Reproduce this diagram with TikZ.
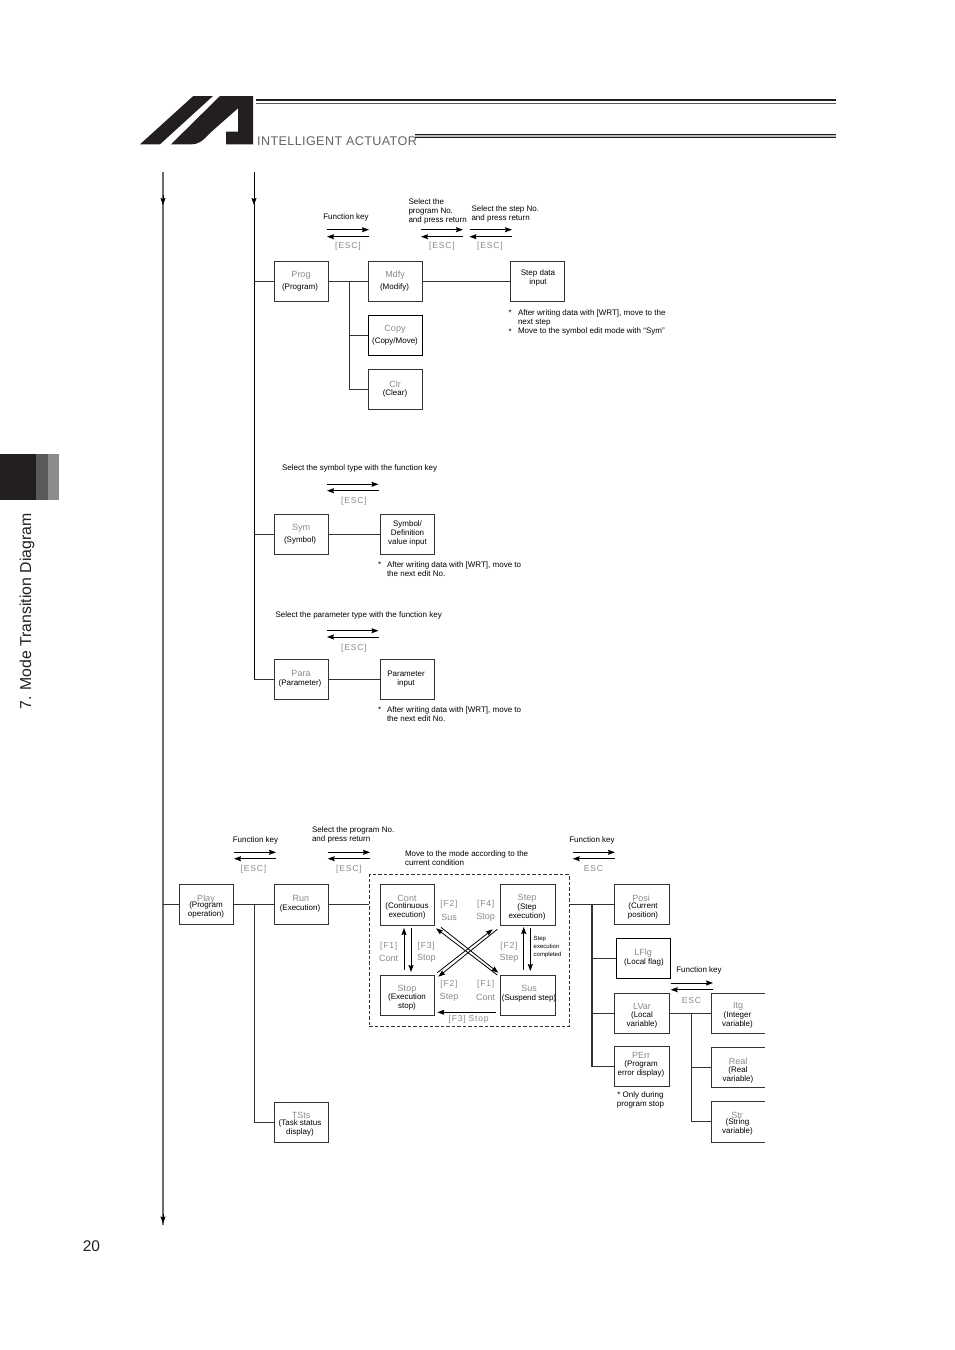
\documentclass[tikz,border=0pt]{standalone}
\usepackage{fontspec}
\setmainfont{Liberation Sans}
\newfontfamily\spacedfont[LetterSpace=9]{Liberation Sans}
\newfontfamily\brandfont[LetterSpace=3]{Liberation Sans}
\usetikzlibrary{arrows.meta}
\definecolor{ink}{HTML}{231F20}
\definecolor{tabmid}{HTML}{5A5A5A}
\definecolor{tablight}{HTML}{8C8C8C}
\definecolor{lgrey}{HTML}{8A8A8A}
\definecolor{bline}{HTML}{333333}
\tikzset{
 mbox/.style={draw=bline,line width=0.85pt,fill=none,inner sep=0pt,outer sep=0pt},
 dbox/.style={draw=black,line width=1.1pt,fill=none,inner sep=0pt,outer sep=0pt},
 wire/.style={draw=bline,line width=0.85pt},
 trunk/.style={draw=bline,line width=1.2pt},
 ar/.style={draw=black,line width=0.8pt,-{Stealth[length=7pt,width=5pt,inset=1pt]}},
 txt/.style={inner sep=0pt,outer sep=0pt,yshift=-0.8pt,font=\fontsize{8}{9}\selectfont,text=black,align=center},
 ltxt/.style={txt,anchor=west,align=left},
 ttl/.style={inner sep=0pt,outer sep=0pt,yshift=-0.8pt,font=\fontsize{9}{10}\selectfont,text=lgrey},
 keyt/.style={inner sep=0pt,outer sep=0pt,yshift=-0.8pt,font=\fontsize{8.6}{10}\spacedfont,text=lgrey},
}
\newcommand{\bxx}[6][mbox]{\node[#1,minimum width=#4-#3,minimum height=#6-#5] (#2) at ({(#3+#4)/2},{(#5+#6)/2}) {};}
\newcommand{\tl}[4]{\node[ttl] (#1) at (#2,#3) {#4};}
\newcommand{\st}[4]{\node[txt] (#1) at (#2,#3) {#4};}
\newcommand{\lt}[4]{\node[ltxt] (#1) at (#2,#3) {#4};}
\newcommand{\kt}[4]{\node[keyt] (#1) at (#2,#3) {#4};}
\newcommand{\pair}[5]{%
 \coordinate (#1ra) at (#2,#4); \coordinate (#1rb) at (#3,#4);
 \coordinate (#1la) at (#3,#5); \coordinate (#1lb) at (#2,#5);
 \draw[ar] (#1ra) -- (#1rb); \draw[ar] (#1la) -- (#1lb);}
\begin{document}
\begin{tikzpicture}[x=1pt,y=-1pt]
\useasboundingbox (0,0) rectangle (954,1350);
% side tab
\fill[ink] (0,454) rectangle (36,500);
\fill[tabmid] (36,454) rectangle (48,500);
\fill[tablight] (48,454) rectangle (59,500);
\node[inner sep=0pt,rotate=90,font=\fontsize{15.8}{18}\selectfont,text=ink] (chap) at (27,611.5) {7. Mode Transition Diagram};
\node[inner sep=0pt,font=\fontsize{15.5}{18}\selectfont,text=ink] (pageno) at (91.5,1246) {20};
% logo
\fill[ink] (140,144.3) -- (193.3,96) -- (213,96) -- (160,144.3) -- cycle;
\fill[ink] (171,144.3) -- (220,96) -- (253,96) -- (253,144.3) -- (226,144.3) -- (226,131.7) -- (238,131.7) -- (238,108.3) -- (210,133) .. controls (203,141) and (198,144.3) .. (192,144.3) -- cycle;
% head rules
\fill[ink] (256,98.6) rectangle (836,100.9);
\fill[ink!75] (256,102.7) rectangle (836,103.8);
\fill[ink] (415,133.6) rectangle (836,135);
\fill[ink!30] (415,135) rectangle (836,136.6);
\fill[ink] (415,136.6) rectangle (836,138);
\node[inner sep=0pt,anchor=base west,font=\fontsize{12.6}{14}\brandfont,text=ink!70] (brand) at (257,145.5) {INTELLIGENT ACTUATOR};
% trunks
\coordinate (tA0) at (163,172); \coordinate (tA1a) at (163,195); \coordinate (tA1) at (163,205);
\coordinate (tAe) at (163,1224.5); \coordinate (tAea) at (163,1214); \coordinate (tAeb) at (163,1223.5);
\coordinate (tB0) at (254,172); \coordinate (tB1a) at (254,195); \coordinate (tB1) at (254,205);
\draw[draw=black!58,line width=2pt] (tA0) -- (tAe);
\draw[ar] (tA1a) -- (tA1);
\draw[ar] (tAea) -- (tAeb);
% boxes
\bxx{prog}{274.3}{328.3}{261.5}{301.5}
\bxx{mdfy}{368.3}{422.5}{261.5}{301.5}
\bxx{sdata}{510.3}{564.3}{261.5}{301.5}
\bxx[dbox]{copy}{368.3}{422.5}{315.5}{355.5}
\bxx{clr}{368.3}{422.5}{369.5}{409.5}
\bxx{sym}{274.3}{328.3}{514.5}{554.5}
\bxx{symv}{380}{434}{514.5}{554.5}
\bxx{para}{274.3}{328.3}{659.5}{699.5}
\bxx{parv}{380}{434}{659.5}{699.5}
\bxx{play}{179.3}{233.3}{884.5}{924.5}
\bxx{run}{274.3}{328.3}{884.5}{924.5}
\bxx{tsts}{274.3}{328.3}{1102}{1142}
\bxx{cont}{380}{434}{884.7}{925}
\bxx{step}{500.3}{555}{884.7}{925}
\bxx{stop}{380}{434}{975}{1015.5}
\bxx{sus}{500.3}{555}{975}{1015.5}
\bxx{posi}{614.3}{669}{884.2}{924.2}
\bxx[dbox]{lflg}{616.3}{670.7}{938.2}{978.2}
\bxx{lvar}{614.3}{669}{993}{1033}
\bxx{perr}{614.3}{669}{1046.7}{1086.7}
% open-right boxes
\foreach \n/\a/\b in {itg/993/1033,real/1047/1087,strv/1101/1142}{
 \coordinate (\n c) at (711.7,{(\a+\b)/2});
 \draw[wire] (765,\a) -- (711.7,\a) -- (711.7,\b) -- (765,\b);
}
% dashed frame
\node[draw=bline,line width=0.8pt,dash pattern=on 3.5pt off 2pt,inner sep=0pt,minimum width=200,minimum height=151.4] (frame) at (469.3,950.4) {};
% connectors
\coordinate (jB) at (254,281.5);
\coordinate (jC) at (254,534.5);
\coordinate (jD) at (254,679.5);
\coordinate (jE) at (254,904.5);
\coordinate (jF) at (254,1122);
\draw[wire,draw=black] (tB0) -- (jD);
\draw[ar] (tB1a) -- (tB1);
\draw[wire] (jB) -- (prog.west);
\draw[wire] (jC) -- (sym.west);
\draw[wire] (jD) -- (para.west);
\draw[wire] (prog.east) -- (mdfy.west);
\draw[wire] (mdfy.east) -- (sdata.west);
\coordinate (j1) at (349,281.5);
\coordinate (j2) at (349,335.5);
\coordinate (j3) at (349,389.5);
\draw[wire] (j1) -- (j3) -- (clr.west);
\draw[wire] (j2) -- (copy.west);
\draw[wire] (sym.east) -- (symv.west);
\draw[wire] (para.east) -- (parv.west);
\coordinate (aPlay) at (163,904.5);
\draw[wire] (aPlay) -- (play.west);
\draw[wire] (play.east) -- (run.west);
\draw[wire] (jE) -- (jF) -- (tsts.west);
\draw[wire] (run.east) -- (frame.west |- run.east);
\coordinate (fE) at (569.3,904.2);
\draw[wire] (fE) -- (posi.west);
\coordinate (j4) at (592,904.2);
\coordinate (j5) at (592,958.2);
\coordinate (j6) at (592,1013);
\coordinate (j7) at (592,1066.7);
\draw[trunk] (j4) -- (j7) -- (perr.west);
\draw[trunk] (j5) -- (lflg.west);
\draw[wire] (j6) -- (lvar.west);
\draw[wire] (lvar.east) -- (itgc);
\coordinate (j8) at (691,1013);
\coordinate (j9) at (691,1067);
\coordinate (j10) at (691,1121.5);
\draw[wire] (j8) -- (j10) -- (strvc);
\draw[wire] (j9) -- (realc);
% key arrows
\pair{a}{327}{369}{229.7}{236.7}
\pair{b}{421}{463}{229.7}{236.7}
\pair{c}{469.5}{512}{229.7}{236.7}
\pair{d}{327}{378.5}{484.3}{490.7}
\pair{e}{327}{378.5}{630.7}{637}
\pair{f}{234}{276}{852.3}{858.7}
\pair{g}{327.7}{370}{852.3}{858.7}
\pair{h}{572.7}{615}{852.3}{858.7}
\pair{i}{670.7}{713}{983}{989.7}
\kt{ka}{348}{245.5}{[ESC]}
\kt{kb}{442}{245.5}{[ESC]}
\kt{kc}{490}{245.5}{[ESC]}
\kt{kd}{354}{500}{[ESC]}
\kt{ke}{354}{647}{[ESC]}
\kt{kf}{253.5}{868}{[ESC]}
\kt{kg}{349}{868}{[ESC]}
\kt{kh}{593.5}{868}{ESC}
\kt{ki}{691.5}{1000}{ESC}
% inner arrows
\coordinate (u1a) at (404,970); \coordinate (u1b) at (404,928);
\coordinate (d1a) at (411,928); \coordinate (d1b) at (411,972);
\coordinate (u2a) at (523.7,970); \coordinate (u2b) at (523.7,927);
\coordinate (d2a) at (530.3,928); \coordinate (d2b) at (530.3,971);
\coordinate (x1a) at (437.3,972.7); \coordinate (x1b) at (492.7,929.3);
\coordinate (x2a) at (497.3,929.3); \coordinate (x2b) at (438.3,976.7);
\coordinate (x3a) at (497.3,975); \coordinate (x3b) at (436,928.3);
\coordinate (x4a) at (441,927.3); \coordinate (x4b) at (498.3,972.7);
\coordinate (b1a) at (495.7,1012.3); \coordinate (b1b) at (437.3,1012.3);
\foreach \p in {u1,d1,u2,d2,x1,x2,x3,x4,b1}{\draw[ar] (\p a) -- (\p b);}
% key labels in frame
\kt{f1}{449}{903.5}{[F2]} \tl{f1b}{449}{916.2}{Sus}
\kt{f2}{485.7}{903.5}{[F4]} \tl{f2b}{485.7}{916.2}{Stop}
\kt{f3}{388.7}{945.5}{[F1]} \tl{f3b}{388.7}{957.5}{Cont}
\kt{f4}{426.3}{945.5}{[F3]} \tl{f4b}{426.3}{957.5}{Stop}
\kt{f5}{509}{945.5}{[F2]} \tl{f5b}{509}{957.5}{Step}
\kt{f6}{449}{983}{[F2]} \tl{f6b}{449}{996.2}{Step}
\kt{f7}{485.7}{983}{[F1]} \tl{f7b}{485.7}{996.2}{Cont}
\kt{f8}{468.7}{1018.5}{[F3]\,\,Stop}
\node[ltxt,font=\fontsize{6}{8}\selectfont] (compl) at (533.7,946.7) {Step\\[0pt]execution\\[0pt]completed};
% box labels
\tl{t1}{301}{274.5}{Prog} \st{s1}{300}{287}{(Program)}
\tl{t2}{395}{274.5}{Mdfy} \st{s2}{394.5}{287}{(Modify)}
\st{s3}{538}{277.5}{Step data\\input}
\tl{t4}{395}{328.5}{Copy} \st{s4}{395}{341}{(Copy/Move)}
\tl{t5}{395}{383}{Clr} \st{s5}{395}{393}{(Clear)}
\tl{t6}{301}{527.5}{Sym} \st{s6}{300}{540}{(Symbol)}
\st{s7}{407.5}{533}{Symbol/\\Definition\\value input}
\tl{t8}{301}{673}{Para} \st{s8}{300}{683}{(Parameter)}
\st{s9}{406}{678.5}{Parameter\\input}
\tl{t10}{206}{898}{Play} \st{s10}{206}{909}{(Program\\operation)}
\tl{t11}{301}{897.5}{Run} \st{s11}{300}{908}{(Execution)}
\tl{t12}{301}{1114.5}{TSts} \st{s12}{300}{1127.5}{(Task status\\display)}
\tl{t13}{407}{897.5}{Cont} \st{s13}{407}{910}{(Continuous\\execution)}
\tl{t14}{527}{897.5}{Step} \st{s14}{527}{911.5}{(Step\\execution)}
\tl{t15}{407}{988}{Stop} \st{s15}{407}{1001.5}{(Execution\\stop)}
\tl{t16}{529}{988}{Sus} \st{s16}{529}{998}{(Suspend step)}
\tl{t17}{641}{897}{Posi} \st{s17}{643}{910}{(Current\\position)}
\tl{t18}{643}{952.5}{LFlg} \st{s18}{644}{962}{(Local flag)}
\tl{t19}{642}{1006}{LVar} \st{s19}{642}{1019}{(Local\\variable)}
\tl{t20}{641}{1055}{PErr} \st{s20}{641}{1068.5}{(Program\\error display)}
\tl{t21}{738}{1006}{Itg} \st{s21}{737.5}{1019}{(Integer\\variable)}
\tl{t22}{738}{1060.5}{Real} \st{s22}{738}{1074.5}{(Real\\variable)}
\tl{t23}{737}{1114.5}{Str} \st{s23}{737.5}{1126}{(String\\variable)}
% captions
\st{c1}{346}{217}{Function key}
\lt{c2}{408.5}{210.5}{Select the\\program No.\\and press return}
\lt{c3}{471.5}{213}{Select the step No.\\and press return}
\lt{n1a}{508.5}{312}{*} \lt{n1}{518}{317}{After writing data with [WRT], move to the\\next step}
\lt{n2a}{508.5}{331}{*} \lt{n2}{518}{331}{Move to the symbol edit mode with “Sym”}
\lt{c4}{282}{468}{Select the symbol type with the function key}
\lt{n3a}{378}{564}{*} \lt{n3}{387}{568.5}{After writing data with [WRT], move to\\the next edit No.}
\lt{c5}{275.5}{614.5}{Select the parameter type with the function key}
\lt{n4a}{378}{708.5}{*} \lt{n4}{387}{713}{After writing data with [WRT], move to\\the next edit No.}
\st{c6}{255.5}{840}{Function key}
\lt{c7}{312}{834.5}{Select the program No.\\and press return}
\lt{c8}{405}{857.5}{Move to the mode according to the\\current condition}
\st{c9}{592}{840}{Function key}
\st{c10}{699}{970}{Function key}
\st{c11}{640.5}{1099.5}{* Only during\\program stop}
\end{tikzpicture}
\end{document}
